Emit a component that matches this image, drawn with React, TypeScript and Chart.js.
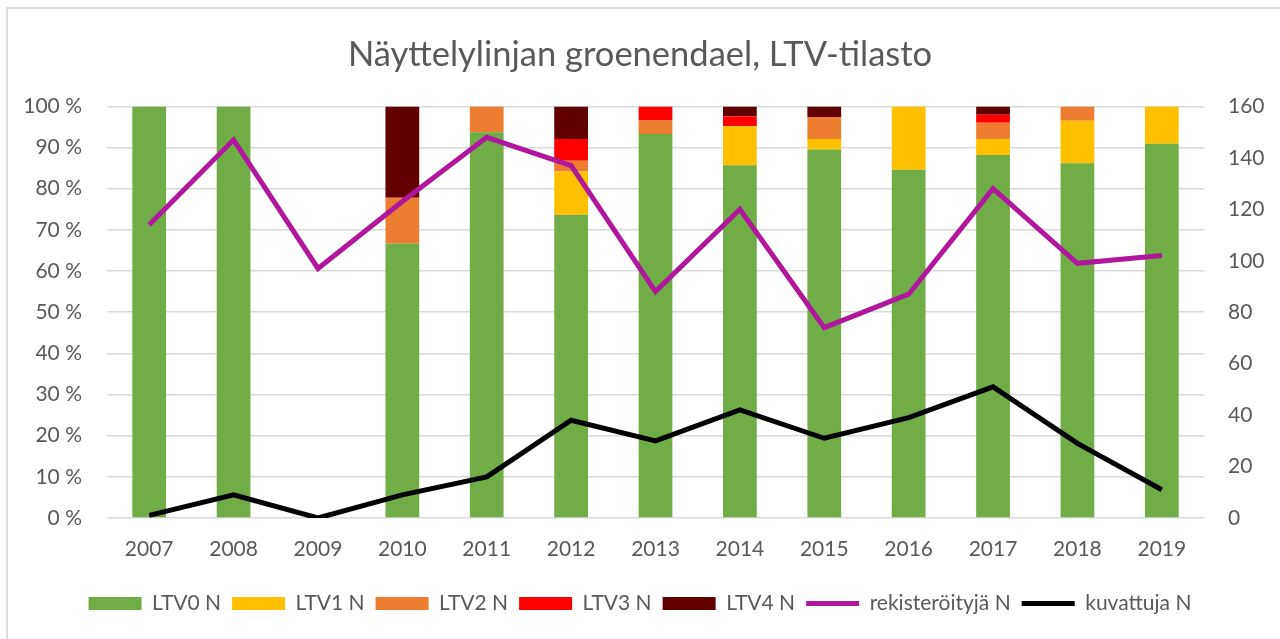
import React, { useEffect, useRef } from "react";
import { Chart, registerables } from "chart.js";

Chart.register(...registerables);

const categories = ["2007", "2008", "2009", "2010", "2011", "2012", "2013", "2014", "2015", "2016", "2017", "2018", "2019"];
const ltv0 = [100, 100, 0, 66.7, 93.75, 73.7, 93.3, 85.7, 89.5, 84.6, 88.2, 86.2, 90.9];
const ltv1 = [0, 0, 0, 0, 0, 10.5, 0, 9.5, 2.6, 15.4, 3.9, 10.3, 9.1];
const ltv2 = [0, 0, 0, 11.1, 6.25, 2.6, 3.3, 0, 5.3, 0, 3.9, 3.5, 0];
const ltv3 = [0, 0, 0, 0, 0, 5.3, 3.4, 2.4, 0, 0, 2.0, 0, 0];
const ltv4 = [0, 0, 0, 22.2, 0, 7.9, 0, 2.4, 2.6, 0, 2.0, 0, 0];
const rekisteroityja = [114, 147, 97, 123, 148, 137, 88, 120, 74, 87, 128, 99, 102];
const kuvattuja = [1, 9, 0, 9, 16, 38, 30, 42, 31, 39, 51, 29, 11];

const FONT = "Lato, 'Open Sans', sans-serif";
const TXT = "#595959";

export default function App() {
  const ref = useRef<HTMLCanvasElement | null>(null);
  useEffect(() => {
    document.body.style.margin = "0";
    const ctx = ref.current!;
    const barDs = (label: string, data: number[], color: string) => ({
      type: "bar" as const,
      label,
      data,
      backgroundColor: color,
      borderWidth: 0,
      yAxisID: "y",
      stack: "s",
      barPercentage: 0.4,
      categoryPercentage: 1,
      pointStyle: "rect",
      order: 1,
    });
    const chart = new Chart(ctx, {
      type: "bar",
      data: {
        labels: categories,
        datasets: [
          barDs("LTV0 N", ltv0, "#70ad47"),
          barDs("LTV1 N", ltv1, "#ffc000"),
          barDs("LTV2 N", ltv2, "#ed7d31"),
          barDs("LTV3 N", ltv3, "#ff0000"),
          barDs("LTV4 N", ltv4, "#600000"),
          {
            type: "line" as const,
            label: "rekisteröityjä N",
            data: rekisteroityja,
            borderColor: "#b0179c",
            backgroundColor: "#b0179c",
            borderWidth: 5,
            pointRadius: 0,
            pointStyle: "line",
            yAxisID: "y1",
            order: 0,
            tension: 0,
          },
          {
            type: "line" as const,
            label: "kuvattuja N",
            data: kuvattuja,
            borderColor: "#000000",
            backgroundColor: "#000000",
            borderWidth: 5,
            pointRadius: 0,
            pointStyle: "line",
            yAxisID: "y1",
            order: 0,
            tension: 0,
          },
        ],
      } as any,
      options: {
        animation: false,
        responsive: false,
        maintainAspectRatio: false,
        layout: { padding: { left: 0, right: 0, top: 0, bottom: 15 } },
        plugins: {
          title: {
            display: true,
            text: "Näyttelylinjan groenendael, LTV-tilasto",
            color: TXT,
            font: { family: FONT, size: 34.5, weight: "normal" },
            padding: { top: 34, bottom: 31 },
          },
          legend: {
            position: "bottom",
            labels: {
              usePointStyle: true,
              pointStyleWidth: 53,
              boxHeight: 13,
              color: TXT,
              font: { family: FONT, size: 21 },
              padding: 11,
              sort: (a: any, b: any) => a.datasetIndex - b.datasetIndex,
            },
          },
          tooltip: { enabled: false },
        },
        scales: {
          x: {
            stacked: true,
            grid: { display: false, drawTicks: false },
            border: { display: false },
            afterFit: (s: any) => { s.height = 64; },
            ticks: { color: TXT, font: { family: FONT, size: 21 }, padding: 19 },
          },
          y: {
            stacked: true,
            position: "left",
            min: 0,
            max: 100,
            afterFit: (s: any) => { s.width = 107; },
            ticks: {
              stepSize: 10,
              color: TXT,
              font: { family: FONT, size: 21 },
              padding: 25,
              callback: (v: any) => v + " %",
            },
            grid: { color: "#d9d9d9", lineWidth: 1.5, drawTicks: false },
            border: { display: false },
          },
          y1: {
            position: "right",
            min: 0,
            max: 160,
            afterFit: (s: any) => { s.width = 76; },
            ticks: { stepSize: 20, color: TXT, font: { family: FONT, size: 21 }, padding: 24 },
            grid: { display: false, drawTicks: false },
            border: { display: false },
          },
        },
      } as any,
    });
    return () => chart.destroy();
  }, []);
  return (
    <div style={{ position: "relative", width: 1280, height: 639, overflow: "hidden", background: "#fff" }}>
      <canvas ref={ref} width={1280} height={639} style={{ position: "absolute", left: 0, top: 0 }} />
      <div style={{ position: "absolute", left: 6, top: 7, width: 1300, height: 700, border: "2px solid #dcdcdc", pointerEvents: "none" }} />
    </div>
  );
}
